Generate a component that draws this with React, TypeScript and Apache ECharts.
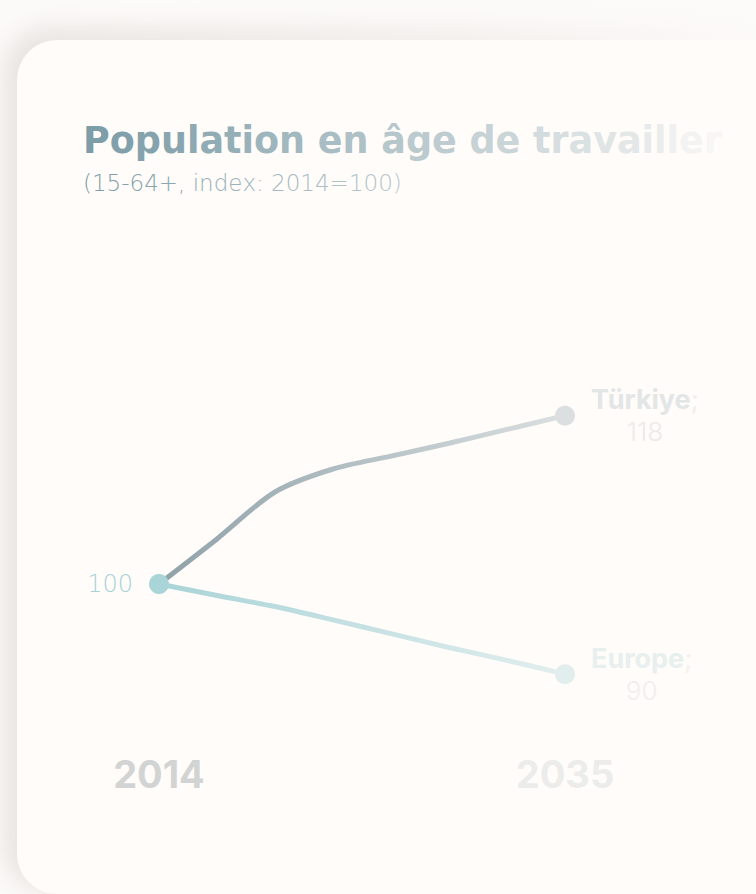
import React, { useEffect, useRef } from "react";
import * as echarts from "echarts";

const years = [2014, 2017, 2020, 2023, 2026, 2029, 2032, 2035];
const turkiye = [100, 104.9, 110.0, 112.5, 113.9, 115.3, 116.8, 118.3];
const europe = [100, 98.75, 97.55, 96.1, 94.6, 93.1, 91.7, 90.2];
const seriesNames = ["Türkiye", "Europe"];
const yearTicks = [2014, 2035];
const titleText = "Population en âge de travailler";
const subtitleText = "(15-64+, index: 2014=100)";

const FONT = "Inter, 'Open Sans', sans-serif";
const TFONT = "'DejaVu Sans', Inter, sans-serif";

function hex(c: string) {
  return [1, 3, 5].map((k) => parseInt(c.slice(k, k + 2), 16));
}
function fadeAt(x: number) {
  const a = hex("#7b9ca7");
  const b = hex("#faf8f6");
  const t = Math.max(0, Math.min(1, (x - 85) / 645));
  const c = a.map((v, k) => Math.round(v + (b[k] - v) * t));
  return `rgb(${c[0]},${c[1]},${c[2]})`;
}
function fadedRich(text: string, x0: number, width: number, font: any) {
  const chars = Array.from(text);
  const rich: any = {};
  const parts = chars.map((ch, i) => {
    const x = x0 + (width * (i + 0.5)) / chars.length;
    rich["c" + i] = { ...font, fill: fadeAt(x) };
    return `{c${i}|${ch}}`;
  });
  return { text: parts.join(""), rich };
}

export default function App() {
  const ref = useRef<HTMLDivElement>(null);
  useEffect(() => {
    if (!ref.current) return;
    const chart = echarts.init(ref.current, null, { renderer: "svg" });
    const last = years.length - 1;
    const grad = (a: string, b: string, m?: string) =>
      new echarts.graphic.LinearGradient(0, 0, 1, 0, m
        ? [{ offset: 0, color: a }, { offset: 0.5, color: m }, { offset: 1, color: b }]
        : [{ offset: 0, color: a }, { offset: 1, color: b }]);

    const endRich = (nameColor: string, semiColor: string, valColor: string) => ({
      n: { fontFamily: FONT, fontWeight: 700, fontSize: 27, color: nameColor, align: "center", lineHeight: 32 },
      s: { fontFamily: FONT, fontWeight: 400, fontSize: 27, color: semiColor, align: "center", lineHeight: 32 },
      v: { fontFamily: FONT, fontWeight: 300, fontSize: 26, color: valColor, align: "center", lineHeight: 32 },
    });

    const title = fadedRich(titleText, 83, 642, { fontFamily: TFONT, fontWeight: 700, fontSize: 36.5 });
    const sub = fadedRich(subtitleText, 83, 317, { fontFamily: TFONT, fontWeight: 200, fontSize: 23 });

    const option: any = {
      animation: false,
      backgroundColor: "transparent",
      grid: { left: 159, right: 191, top: 354, height: 395.6, containLabel: false },
      xAxis: {
        type: "value",
        min: 2014,
        max: 2035,
        axisLine: { show: false },
        axisTick: { show: false },
        splitLine: { show: false },
        axisLabel: {
          customValues: yearTicks,
          margin: 5,
          formatter: (v: number) => (v === yearTicks[0] ? `{a|${v}}` : `{b|${v}}`),
          rich: {
            a: { fontFamily: FONT, fontWeight: 700, fontSize: 38, color: "#d2d4d4" },
            b: { fontFamily: FONT, fontWeight: 700, fontSize: 38, color: "#ececeb" },
          },
        },
      },
      yAxis: {
        type: "value",
        min: 82,
        max: 125,
        show: false,
        splitLine: { show: false },
      },
      graphic: [
        {
          type: "text",
          left: 83,
          top: 122,
          style: { text: title.text, rich: title.rich },
        },
        {
          type: "text",
          left: 83,
          top: 171,
          style: { text: sub.text, rich: sub.rich },
        },
      ],
      series: [
        {
          name: seriesNames[0],
          type: "line",
          smooth: 0.3,
          z: 2,
          data: turkiye.map((v, i) => ({
            value: [years[i], v],
            symbolSize: i === last ? 20 : 0,
            itemStyle: { color: "#dcdfe0" },
          })),
          symbol: "circle",
          showSymbol: true,
          lineStyle: { width: 5, color: grad("#8fa1a8", "#dbdfe0", "#b4c1c5"), cap: "round" },
          emphasis: { disabled: true },
          endLabel: {
            show: true,
            distance: 26,
            formatter: (p: any) => `{n|${p.seriesName}}{s|;}\n{v|${Math.round(p.value[1])}}`,
            rich: endRich("#e3e6e7", "#f0efee", "#ebebea"),
          },
        },
        {
          name: seriesNames[1],
          type: "line",
          smooth: 0.3,
          z: 3,
          data: europe.map((v, i) => ({
            value: [years[i], v],
            symbolSize: i === 0 || i === last ? 20 : 0,
            itemStyle: { color: i === 0 ? "#a9d4d8" : "#e2eeee" },
            label:
              i === 0
                ? {
                    show: true,
                    position: "left",
                    distance: 16,
                    formatter: (p: any) => `${Math.round(p.value[1])}`,
                    fontFamily: TFONT,
                    fontWeight: 200,
                    fontSize: 24,
                    color: "#a6d2d6",
                  }
                : { show: false },
          })),
          symbol: "circle",
          showSymbol: true,
          lineStyle: { width: 5, color: grad("#a9d4d8", "#e2eeee", "#c6e1e3"), cap: "round" },
          emphasis: { disabled: true },
          endLabel: {
            show: true,
            distance: 26,
            formatter: (p: any) => `{n|${p.seriesName}}{s|;}\n{v|${Math.round(p.value[1])}}`,
            rich: endRich("#e8efef", "#f3f2f0", "#efefee"),
          },
        },
      ],
    };
    chart.setOption(option);
    return () => chart.dispose();
  }, []);

  return (
    <div
      style={{
        position: "fixed",
        left: 0,
        top: 0,
        width: 756,
        height: 894,
        overflow: "hidden",
        background: "#fcfaf8",
      }}
    >
      <div
        style={{
          position: "absolute",
          left: 17,
          top: 40,
          width: 820,
          height: 854,
          borderRadius: 40,
          background: "#fffcf9",
          boxShadow: "-8px -8px 22px 6px rgba(100, 85, 70, 0.12)",
        }}
      />
      <div
        style={{
          position: "absolute",
          left: 0,
          top: 0,
          width: 756,
          height: 40,
          background: "linear-gradient(to right, rgba(253,251,249,0) 0%, rgba(253,251,249,0.45) 60%, rgba(253,251,249,0.95) 100%)",
        }}
      />
      <div ref={ref} style={{ position: "absolute", left: 0, top: 0, width: 756, height: 894 }} />
    </div>
  );
}
